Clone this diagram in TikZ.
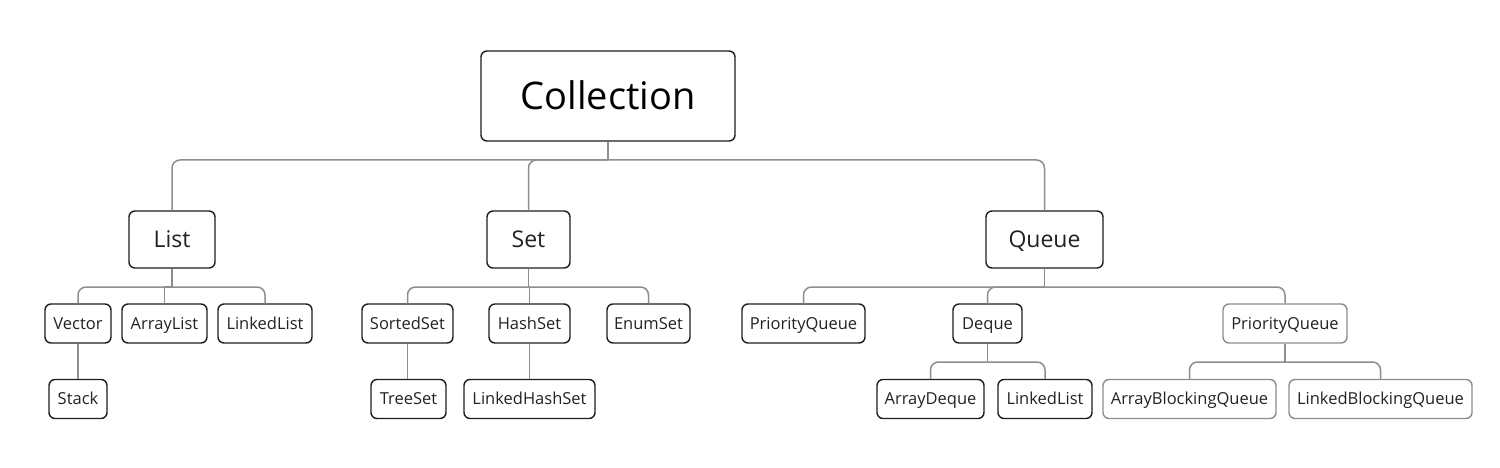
\documentclass[tikz,border=0pt]{standalone}
\usepackage{fontspec}
\setmainfont{Open Sans}
\begin{document}
\begin{tikzpicture}[x=1pt,y=-1pt,
  box/.style={draw=boxc, line width=1.4pt, rounded corners=6pt, inner sep=0pt, fill=white, text=txt, text depth=0pt},
  big/.style={box, font=\fontsize{38}{44}\selectfont, minimum height=90pt, text height=27pt},
  mid/.style={box, font=\fontsize{23}{27}\selectfont, minimum height=57pt, text height=16.4pt},
  small/.style={box, font=\fontsize{16.5}{20}\selectfont, minimum height=39pt, text height=11.8pt},
  light/.style={draw=lightc},
  conn/.style={draw=linec, line width=1.5pt},
  rconn/.style={conn, rounded corners=8pt}]
\definecolor{boxc}{HTML}{1E1E1E}
\definecolor{lightc}{HTML}{8C8C8C}
\definecolor{linec}{HTML}{8E8E8E}
\definecolor{txt}{HTML}{222222}
\useasboundingbox (0,0) rectangle (1500,468);
\fill[white] (0,0) rectangle (1500,468);

% nodes
\node[big, minimum width=254pt, text=black] (coll) at (608,96) {Collection};
\node[mid, minimum width=86pt]  (list)  at (172,239.5) {List};
\node[mid, minimum width=83pt]  (set)   at (528.5,239.5) {Set};
\node[mid, minimum width=117pt] (queue) at (1044.5,239.5) {Queue};

\node[small, minimum width=66pt]  (vector) at (78,323.5) {Vector};
\node[small, minimum width=85pt]  (alist)  at (164.5,323.5) {ArrayList};
\node[small, minimum width=94pt]  (llist)  at (265,323.5) {LinkedList};
\node[small, minimum width=91pt]  (sset)   at (407.5,323.5) {SortedSet};
\node[small, minimum width=81pt]  (hset)   at (529.5,323.5) {HashSet};
\node[small, minimum width=83pt]  (eset)   at (648.5,323.5) {EnumSet};
\node[small, minimum width=123pt] (pq)     at (803.5,323.5) {PriorityQueue};
\node[small, minimum width=69pt]  (deque)  at (987.5,323.5) {Deque};
\node[small, light, minimum width=124pt] (pq2) at (1285,323.5) {PriorityQueue};

\node[small, minimum width=58pt]  (stack)  at (78,399) {Stack};
\node[small, minimum width=75pt]  (tset)   at (408.5,399) {TreeSet};
\node[small, minimum width=131pt] (lhset)  at (529.5,399) {LinkedHashSet};
\node[small, minimum width=107pt] (adeque) at (930.5,399) {ArrayDeque};
\node[small, minimum width=94pt]  (llist2) at (1045,399) {LinkedList};
\node[small, light, minimum width=173pt] (abq) at (1189.5,399) {ArrayBlockingQueue};
\node[small, light, minimum width=183pt] (lbq) at (1380.5,399) {LinkedBlockingQueue};

% junctions
\draw[conn] (coll.south) -- (608,160) coordinate (jc);
\draw[conn] (list.south) -- (172,287) coordinate (jl);
\draw[conn] (set.south) -- (528.5,287) coordinate (js);
\draw[conn] (queue.south) -- (1044.5,287) coordinate (jq);
\draw[conn] (deque.south) -- (987.5,362) coordinate (jd);
\draw[conn] (pq2.south) -- (1285,362) coordinate (jp);

% Collection
\draw[rconn] (jc) -| (list.north);
\draw[rconn] (jc) -| (set.north);
\draw[rconn] (jc) -| (queue.north);
% List
\draw[rconn] (jl) -| (vector.north);
\draw[conn] (jl) -- (164.5,287) -- (alist.north);
\draw[rconn] (jl) -| (llist.north);
\draw[conn] (vector.south) -- (stack.north);
% Set
\draw[rconn] (js) -| (sset.north);
\draw[conn] (js) -- (529.5,287) -- (hset.north);
\draw[rconn] (js) -| (eset.north);
\draw[conn] (sset.south) -- (sset.south |- tset.north);
\draw[conn] (hset.south) -- (lhset.north);
% Queue
\draw[rconn] (jq) -| (pq.north);
\draw[rconn] (jq) -| (deque.north);
\draw[rconn] (jq) -| (pq2.north);
% Deque
\draw[rconn] (jd) -| (adeque.north);
\draw[rconn] (jd) -| (llist2.north);
% PriorityQueue
\draw[rconn] (jp) -| (abq.north);
\draw[rconn] (jp) -| (lbq.north);
\end{tikzpicture}
\end{document}
